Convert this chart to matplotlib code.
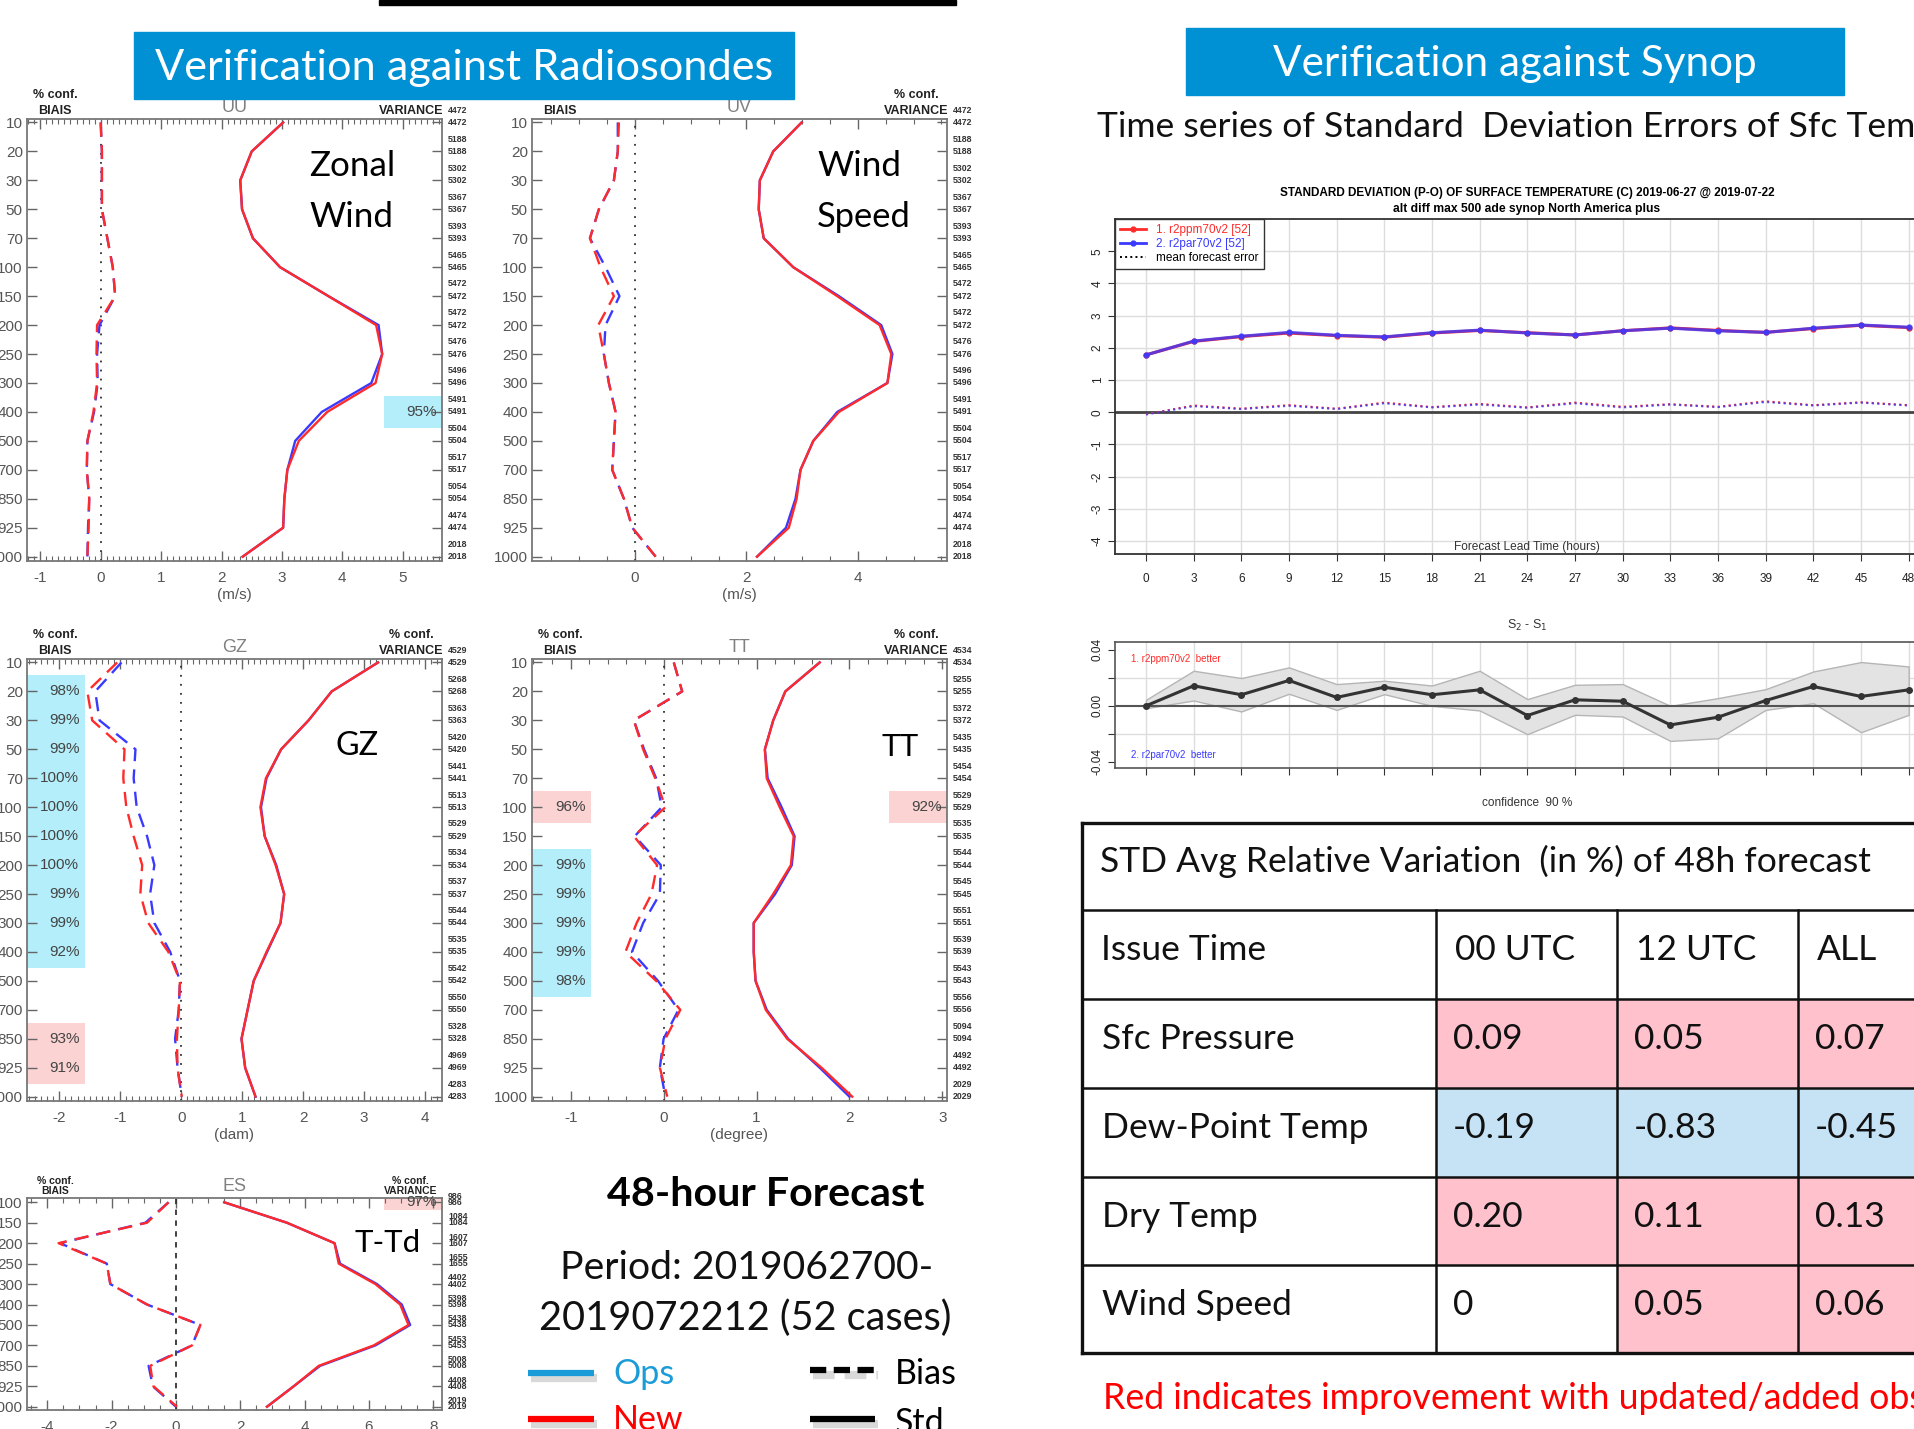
import numpy as np
import matplotlib
matplotlib.use('Agg')
import matplotlib.pyplot as plt
from matplotlib.patches import Rectangle
from matplotlib.lines import Line2D
from matplotlib.ticker import MultipleLocator

W, H = 1915, 1429

# ---------------- data ----------------
levels = ['10', '20', '30', '50', '70', '100', '150', '200', '250',
          '300', '400', '500', '700', '850', '925', '1000']
es_levels = ['100', '150', '200', '250', '300', '400', '500', '700',
             '850', '925', '1000']

# UU  zonal wind (m/s)
uu_std_new = [3.02, 2.50, 2.31, 2.34, 2.52, 2.97, 3.77, 4.56, 4.66, 4.55, 3.75, 3.28, 3.09, 3.04, 3.02, 2.35]
uu_std_ops = [3.02, 2.50, 2.31, 2.34, 2.52, 2.97, 3.77, 4.60, 4.66, 4.48, 3.66, 3.22, 3.09, 3.04, 3.02, 2.35]
uu_bias_new = [0.00, 0.02, 0.02, 0.02, 0.11, 0.20, 0.24, -0.06, -0.07, -0.06, -0.12, -0.22, -0.23, -0.19, -0.20, -0.22]
uu_bias_ops = [0.00, 0.02, 0.02, 0.02, 0.11, 0.20, 0.24, -0.02, -0.06, -0.05, -0.11, -0.22, -0.23, -0.19, -0.21, -0.22]
uu_counts = ['4472', '5188', '5302', '5367', '5393', '5465', '5472', '5472',
             '5476', '5496', '5491', '5504', '5517', '5054', '4474', '2018']
uu_var_conf = ['', '', '', '', '', '', '', '', '', '', '95%', '', '', '', '', '']
uu_var_side = ['', '', '', '', '', '', '', '', '', '', 'b', '', '', '', '', '']

# UV  wind speed (m/s)
uv_std_new = [2.99, 2.48, 2.24, 2.22, 2.31, 2.84, 3.63, 4.39, 4.60, 4.53, 3.66, 3.20, 2.97, 2.90, 2.76, 2.19]
uv_std_ops = [2.99, 2.48, 2.24, 2.22, 2.31, 2.84, 3.66, 4.42, 4.62, 4.53, 3.63, 3.20, 2.97, 2.88, 2.71, 2.19]
uv_bias_new = [-0.29, -0.31, -0.38, -0.65, -0.81, -0.62, -0.38, -0.66, -0.56, -0.47, -0.35, -0.38, -0.41, -0.20, -0.05, 0.37]
uv_bias_ops = [-0.31, -0.31, -0.38, -0.65, -0.81, -0.53, -0.28, -0.53, -0.56, -0.47, -0.35, -0.38, -0.41, -0.20, -0.05, 0.37]
uv_counts = uu_counts

# GZ  geopotential (dam)
gz_std_new = [3.23, 2.47, 2.09, 1.64, 1.39, 1.30, 1.37, 1.55, 1.69, 1.63, 1.40, 1.19, 1.09, 0.99, 1.05, 1.22]
gz_std_ops = [3.23, 2.47, 2.09, 1.64, 1.40, 1.31, 1.37, 1.56, 1.69, 1.63, 1.41, 1.19, 1.09, 0.99, 1.05, 1.22]
gz_bias_new = [-1.05, -1.54, -1.46, -0.93, -0.95, -0.90, -0.78, -0.64, -0.67, -0.54, -0.21, -0.02, -0.04, -0.07, -0.06, 0.01]
gz_bias_ops = [-0.98, -1.41, -1.34, -0.75, -0.78, -0.73, -0.56, -0.44, -0.51, -0.44, -0.18, -0.02, -0.04, -0.10, -0.06, 0.01]
gz_counts = ['4529', '5268', '5363', '5420', '5441', '5513', '5529', '5534',
             '5537', '5544', '5535', '5542', '5550', '5328', '4969', '4283']
gz_bias_conf = ['', '98%', '99%', '99%', '100%', '100%', '100%', '100%', '99%', '99%', '92%', '', '', '93%', '91%', '']
gz_bias_side = ['', 'b', 'b', 'b', 'b', 'b', 'b', 'b', 'b', 'b', 'b', '', '', 'r', 'r', '']

# TT  temperature (degree)
tt_std_new = [1.68, 1.31, 1.18, 1.09, 1.11, 1.25, 1.40, 1.37, 1.18, 0.97, 0.97, 0.99, 1.10, 1.33, 1.70, 2.03]
tt_std_ops = [1.68, 1.31, 1.18, 1.09, 1.12, 1.27, 1.41, 1.38, 1.20, 0.97, 0.97, 0.99, 1.11, 1.34, 1.68, 2.00]
tt_bias_new = [0.11, 0.20, -0.32, -0.22, -0.09, 0.02, -0.32, -0.07, -0.13, -0.29, -0.41, -0.08, 0.18, 0.02, -0.04, 0.04]
tt_bias_ops = [0.11, 0.20, -0.32, -0.21, -0.08, -0.02, -0.31, -0.03, -0.04, -0.22, -0.34, -0.06, 0.16, 0.00, -0.04, 0.02]
tt_counts = ['4534', '5255', '5372', '5435', '5454', '5529', '5535', '5544',
             '5545', '5551', '5539', '5543', '5556', '5094', '4492', '2029']
tt_bias_conf = ['', '', '', '', '', '96%', '', '99%', '99%', '99%', '99%', '98%', '', '', '', '']
tt_bias_side = ['', '', '', '', '', 'r', '', 'b', 'b', 'b', 'b', 'b', '', '', '', '']
tt_var_conf = ['', '', '', '', '', '92%', '', '', '', '', '', '', '', '', '', '']
tt_var_side = ['', '', '', '', '', 'r', '', '', '', '', '', '', '', '', '', '']

# ES  dew-point depression
es_std_new = [1.50, 3.45, 4.93, 5.06, 6.20, 6.97, 7.23, 6.15, 4.44, 3.66, 2.83]
es_std_ops = [1.50, 3.45, 4.93, 5.10, 6.25, 7.02, 7.28, 6.20, 4.48, 3.66, 2.83]
es_bias_new = [-0.23, -0.90, -3.65, -2.15, -2.04, -0.90, 0.76, 0.50, -0.80, -0.70, 0.03]
es_bias_ops = [-0.23, -0.95, -3.60, -2.15, -2.04, -0.90, 0.76, 0.50, -0.85, -0.72, 0.00]
es_counts = ['986', '1084', '1607', '1655', '4402', '5398', '5438', '5453', '5008', '4408', '2019']
es_var_conf = ['97%', '', '', '', '', '', '', '', '', '', '']
es_var_side = ['r', '', '', '', '', '', '', '', '', '', '']

# synop time series
hours = [0, 3, 6, 9, 12, 15, 18, 21, 24, 27, 30, 33, 36, 39, 42, 45, 48]
ts_std_1 = [1.78, 2.20, 2.35, 2.46, 2.38, 2.33, 2.46, 2.54, 2.47, 2.40, 2.53, 2.62, 2.54, 2.48, 2.60, 2.70, 2.63]
ts_std_2 = [1.78, 2.21, 2.36, 2.48, 2.39, 2.34, 2.47, 2.55, 2.46, 2.40, 2.53, 2.61, 2.53, 2.48, 2.61, 2.71, 2.64]
ts_bias_1 = [-0.06, 0.21, 0.11, 0.22, 0.11, 0.30, 0.16, 0.26, 0.15, 0.30, 0.17, 0.25, 0.17, 0.34, 0.22, 0.31, 0.22]
ts_bias_2 = [-0.07, 0.19, 0.10, 0.20, 0.10, 0.28, 0.15, 0.24, 0.14, 0.28, 0.15, 0.24, 0.16, 0.32, 0.21, 0.30, 0.21]
ts_labels = ['1. r2ppm70v2 [52]', '2. r2par70v2 [52]', 'mean forecast error']

diff_mean = [0.0, 0.0143, 0.0079, 0.0181, 0.0060, 0.0133, 0.0079, 0.0114, -0.0069,
             0.0043, 0.0033, -0.0136, -0.0081, 0.0038, 0.0138, 0.0067, 0.0114]
diff_high = [0.0043, 0.0250, 0.0198, 0.0274, 0.0155, 0.0179, 0.0145, 0.0250, 0.0048,
             0.0150, 0.0155, 0.0000, 0.0055, 0.0119, 0.0245, 0.0312, 0.0281]
diff_low = [-0.0017, 0.0038, -0.0040, 0.0086, -0.0029, 0.0083, 0.0000, -0.0033, -0.0202,
            -0.0064, -0.0076, -0.0250, -0.0231, -0.0029, 0.0019, -0.0188, -0.0064]

# table
table_title = 'STD Avg Relative Variation  (in %) of 48h forecast'
table_cols = ['Issue Time', '00 UTC', '12 UTC', 'ALL']
table_rows = ['Sfc Pressure', 'Dew-Point Temp', 'Dry Temp', 'Wind Speed']
table_vals = [['0.09', '0.05', '0.07'],
              ['-0.19', '-0.83', '-0.45'],
              ['0.20', '0.11', '0.13'],
              ['0', '0.05', '0.06']]

legend_names = ['Ops', 'New']
legend_colors = ['#1b9bd7', '#ff0000']
style_names = ['Bias', 'Std']
style_ls = [(0, (2.6, 1.2)), '-']

# ---------------- styles ----------------
RED = '#ff2a2a'
BLUE = '#3a3aff'
PINK = '#fbd3d3'
CYAN = '#b3eefa'
HEAD = '#0091d5'
GOTHIC = {'family': 'Lato', 'weight': 'normal'}
CAL = {'family': 'Lato'}
NARROW = ['Liberation Sans Narrow', 'Liberation Sans']

plt.rcParams['font.family'] = ['Liberation Sans', 'DejaVu Sans']

fig = plt.figure(figsize=(W / 100, H / 100), dpi=100)
fig.patch.set_facecolor('white')
renderer = fig.canvas.get_renderer()


def axes_px(x0, y0, x1, y1):
    return fig.add_axes([x0 / W, 1 - y1 / H, (x1 - x0) / W, (y1 - y0) / H])


def fit_size(s, width, **kw):
    t = fig.text(0, 0, s, fontsize=20, **kw)
    w = t.get_window_extent(renderer).width
    t.remove()
    return 20 * width / w


def profile(box, labels, std_new, std_ops, bias_new, bias_ops, counts, xlim, ylim,
            major, minor, name, unit, tags, bias_conf=None, var_conf=None,
            gap=0.42, half=0.55, zero_ls=(0, (1, 4)), small=9, conf_dy=13):
    ax = axes_px(*box)
    y = np.arange(len(labels))
    ax.axvline(0, color='#333333', lw=1.3, ls=zero_ls, zorder=2)
    ax.plot(std_ops, y, color=BLUE, lw=1.7, zorder=4)
    ax.plot(std_new, y, color=RED, lw=1.7, zorder=4)
    ax.plot(bias_ops, y, color=BLUE, lw=1.7, ls=(0, (6, 3.5)), zorder=4)
    ax.plot(bias_new, y, color=RED, lw=1.7, ls=(0, (6, 3.5)), zorder=4)
    ax.set_xlim(xlim)
    ax.set_ylim(ylim)
    ax.set_yticks(y)
    ax.set_yticklabels(labels)
    ax.set_xticks(major)
    ax.set_xticklabels(['%g' % v for v in major])
    ax.xaxis.set_minor_locator(MultipleLocator(minor))
    ax.tick_params(which='both', direction='in', top=True, right=True, color='#666666')
    ax.tick_params(which='major', length=7, width=1, labelsize=11, labelcolor='#555555', pad=3)
    ax.tick_params(axis='x', which='major', pad=7)
    ax.tick_params(which='minor', length=3.5, width=0.8)
    for sp in ax.spines.values():
        sp.set_color('#777777')
        sp.set_linewidth(1.3)

    for conf, right in ((bias_conf, False), (var_conf, True)):
        if conf is None:
            continue
        pct, side, edge = conf
        x0, x1 = (edge, xlim[1]) if right else (xlim[0], edge)
        for i, (p, s) in enumerate(zip(pct, side)):
            if not p:
                continue
            ax.add_patch(Rectangle((x0, i - half), x1 - x0, 2 * half, lw=0, zorder=1,
                                   color=CYAN if s == 'b' else PINK))
            ax.annotate(p, (x1, i), xytext=(-4, 0), textcoords='offset points',
                        ha='right', va='center', fontsize=11, color='#444444',
                        family=NARROW, zorder=3)

    tr = ax.get_yaxis_transform()
    for i, c in enumerate(counts):
        for dy in (0, -gap):
            ax.text(1.015, i + dy, c, transform=tr, fontsize=6.3, fontweight='bold',
                    color='#333333', va='center', ha='left', family=NARROW, clip_on=False)

    def top(s, xf, dy, **kw):
        ax.annotate(s, (xf, 1), xycoords='axes fraction', xytext=(0, dy),
                    textcoords='offset points', ha='center', va='bottom', **kw)

    lab = dict(fontsize=small, fontweight='bold', color='#222222', family=NARROW)
    top(name, 0.5, 2, fontsize=13, color='#808080')
    top('BIAIS', 0.068, 1.5, **lab)
    top('VARIANCE', 0.925, 1.5, **lab)
    if tags[0]:
        top('% conf.', 0.068, conf_dy, **lab)
    if tags[1]:
        top('% conf.', 0.925, conf_dy, **lab)
    if unit:
        ax.annotate(unit, (0.5, 0), xycoords='axes fraction', xytext=(0, -24.5),
                    textcoords='offset points', ha='center', va='center',
                    fontsize=11, color='#555555')
    return ax


profile((27, 119, 442, 561), levels, uu_std_new, uu_std_ops, uu_bias_new, uu_bias_ops,
        uu_counts, (-1.22, 5.65), (15.15, -0.12), [-1, 0, 1, 2, 3, 4, 5], 0.1, 'UU', '(m/s)',
        (True, False), var_conf=(uu_var_conf, uu_var_side, 4.69))
profile((532, 119, 947, 561), levels, uv_std_new, uv_std_ops, uv_bias_new, uv_bias_ops,
        uv_counts, (-1.85, 5.6), (15.15, -0.12), [0, 2, 4], 0.5, 'UV', '(m/s)',
        (False, True))
profile((27, 659, 442, 1101), levels, gz_std_new, gz_std_ops, gz_bias_new, gz_bias_ops,
        gz_counts, (-2.53, 4.28), (15.15, -0.12), [-2, -1, 0, 1, 2, 3, 4], 0.1, 'GZ', '(dam)',
        (True, True), bias_conf=(gz_bias_conf, gz_bias_side, -1.58))
profile((532, 659, 947, 1101), levels, tt_std_new, tt_std_ops, tt_bias_new, tt_bias_ops,
        tt_counts, (-1.416, 3.05), (15.15, -0.12), [-1, 0, 1, 2, 3], 0.2, 'TT', '(degree)',
        (True, True), bias_conf=(tt_bias_conf, tt_bias_side, -0.78),
        var_conf=(tt_var_conf, tt_var_side, 2.43))
profile((27, 1198, 442, 1410), es_levels, es_std_new, es_std_ops, es_bias_new, es_bias_ops,
        es_counts, (-4.63, 8.27), (10.16, -0.21), [-4, -2, 0, 2, 4, 6, 8], 0.5, 'ES', None,
        (True, True), var_conf=(es_var_conf, es_var_side, 6.46), gap=0.3, half=0.4,
        zero_ls=(0, (3, 3)), small=7.5, conf_dy=9)

# ---------------- synop time series ----------------
XL = (-1.95, 50.6)
ax1 = axes_px(1115, 219, 1950, 554)
for h in hours:
    ax1.axvline(h, color='#dddddd', lw=1, zorder=0)
for v in range(-4, 6):
    ax1.axhline(v, color='#dddddd', lw=1, zorder=0)
ax1.axhline(0, color='#444444', lw=2, zorder=1)
ax1.plot(hours, ts_bias_1, color=RED, lw=1.5, ls=':', zorder=2)
ax1.plot(hours, ts_bias_2, color=BLUE, lw=1.5, ls=':', zorder=2, alpha=0.8)
ax1.plot(hours, ts_std_1, color=RED, lw=2.2, marker='o', ms=3.5, zorder=3)
ax1.plot(hours, ts_std_2, color=BLUE, lw=2.2, marker='o', ms=3.5, zorder=3, alpha=0.8)
ax1.set_xlim(XL)
ax1.set_ylim(-4.4, 6.0)
ax1.set_xticks(hours)
ax1.set_xticklabels([str(h) for h in hours])
ax1.set_yticks(range(-4, 6))
ax1.set_yticklabels([str(v) for v in range(-4, 6)], rotation=90, va='center')
ax1.tick_params(direction='out', length=5, color='#333333', labelsize=8.5, labelcolor='#222222')
ax1.tick_params(axis='x', pad=9)
ax1.tick_params(axis='y', pad=3)
for t in ax1.get_xticklabels() + ax1.get_yticklabels():
    t.set_family(NARROW)
for sp in ax1.spines.values():
    sp.set_color('#333333')
    sp.set_linewidth(1.3)
handles = [Line2D([], [], color=RED, lw=2, marker='o', ms=3.5),
           Line2D([], [], color=BLUE, lw=2, marker='o', ms=3.5),
           Line2D([], [], color='k', lw=1.4, ls=':')]
leg = ax1.legend(handles, ts_labels, loc='upper left', bbox_to_anchor=(0, 1), borderaxespad=0,
                 fancybox=False, edgecolor='#333333', framealpha=1, handlelength=2.2,
                 labelspacing=0.15, borderpad=0.45, prop={'family': NARROW, 'size': 8.5})
leg.get_frame().set_linewidth(1.0)
for txt, c in zip(leg.get_texts(), [RED, BLUE, 'k']):
    txt.set_color(c)

ax2 = axes_px(1115, 642, 1950, 768)
for h in hours:
    ax2.axvline(h, color='#dddddd', lw=1, zorder=0)
for v in (-0.02, 0.02):
    ax2.axhline(v, color='#dddddd', lw=1, zorder=0)
ax2.fill_between(hours, diff_low, diff_high, facecolor='#e3e3e3', edgecolor='#b5b5b5', lw=1, zorder=1)
ax2.axhline(0, color='#555555', lw=1.5, zorder=2)
ax2.plot(hours, diff_mean, color='#333333', lw=2.2, marker='o', ms=4, zorder=3)
ax2.set_xlim(XL)
ax2.set_ylim(-0.0443, 0.0455)
ax2.set_xticks(hours)
ax2.set_xticklabels([])
ax2.set_yticks([-0.04, -0.02, 0, 0.02, 0.04])
ax2.set_yticklabels(['-0.04', '', '0.00', '', '0.04'], rotation=90, va='center')
ax2.tick_params(direction='out', length=5, color='#333333', labelsize=8.5, labelcolor='#222222', pad=3)
for t in ax2.get_yticklabels():
    t.set_family(NARROW)
for sp in ax2.spines.values():
    sp.set_color('#555555')
    sp.set_linewidth(1.2)

# ---------------- overlay in pixel coordinates ----------------
ov = fig.add_axes([0, 0, 1, 1])
ov.set_xlim(0, W)
ov.set_ylim(H, 0)
ov.axis('off')
ov.patch.set_visible(False)

ov.add_patch(Rectangle((379, 0), 577, 5, color='k'))

for x0, y0, w, h, s, tw in ((134, 32, 660, 67, 'Verification against Radiosondes', 619),
                            (1186, 28, 658, 67, 'Verification against Synop', 485)):
    ov.add_patch(Rectangle((x0, y0), w, h, color=HEAD))
    ov.text(x0 + w / 2, y0 + 48, s, color='white', ha='center', va='baseline',
            fontsize=fit_size(s, tw, **GOTHIC), **GOTHIC)

s = 'Time series of Standard  Deviation Errors of Sfc Temp'
ov.text(1097, 137, s, fontsize=fit_size(s, 838, **GOTHIC), va='baseline', color='#111111', **GOTHIC)

# big variable names
for s, x, y, tw in (('Zonal', 309, 176, 86), ('Wind', 309, 227, 84), ('Wind', 817, 176, 84),
                    ('Speed', 817, 227, 94), ('GZ', 336, 755, 43), ('TT', 882, 756, 37),
                    ('T-Td', 355, 1252, 66)):
    ov.text(x, y, s, fontsize=fit_size(s, tw, **CAL), va='baseline', **CAL)

# forecast description
s = '48-hour Forecast'
ov.text(766, 1206, s, ha='center', va='baseline', fontweight='bold', family='Lato',
        fontsize=fit_size(s, 318, family='Lato', fontweight='bold'))
s = 'Period: 2019062700-'
ov.text(747, 1279, s, ha='center', va='baseline', color='#111111',
        fontsize=fit_size(s, 373, **GOTHIC), **GOTHIC)
s = '2019072212 (52 cases)'
ov.text(745, 1330, s, ha='center', va='baseline', color='#111111',
        fontsize=fit_size(s, 412, **GOTHIC), **GOTHIC)

fs_leg = fit_size('Ops', 61, **CAL)
for i, (name, col) in enumerate(zip(legend_names, legend_colors)):
    yy = 1373 + 46 * i
    ov.plot([531, 597], [yy + 5, yy + 5], color='k', alpha=0.15, lw=6, solid_capstyle='butt')
    ov.plot([528, 594], [yy, yy], color=col, lw=4.5, solid_capstyle='butt')
    ov.text(613, yy + 11, name, color=col, fontsize=fs_leg, va='baseline', **CAL)
for i, (name, ls) in enumerate(zip(style_names, style_ls)):
    yy = 1370 + 49 * i
    ov.plot([813, 878], [yy + 5, yy + 5], color='k', alpha=0.15, lw=6, ls=ls,
            solid_capstyle='butt', dash_capstyle='butt')
    ov.plot([810, 875], [yy, yy], color='k', lw=4.5, ls=ls,
            solid_capstyle='butt', dash_capstyle='butt')
    ov.text(895, yy + 14, name, color='k', fontsize=fs_leg, va='baseline', **CAL)

# synop plot texts
s = 'STANDARD DEVIATION (P-O) OF SURFACE TEMPERATURE (C) 2019-06-27 @ 2019-07-22'
ov.text(1527, 196, s, ha='center', va='baseline', fontweight='bold', family=NARROW,
        fontsize=fit_size(s, 498, family=NARROW, fontweight='bold'))
s = 'alt diff max 500 ade synop North America plus'
ov.text(1527, 212, s, ha='center', va='baseline', fontweight='bold', family=NARROW,
        fontsize=fit_size(s, 265, family=NARROW, fontweight='bold'))
s = 'Forecast Lead Time (hours)'
ov.text(1527, 550, s, ha='center', va='baseline', color='#333333', family=NARROW,
        fontsize=fit_size(s, 146, family=NARROW))
ov.text(1527, 629, r'S$_2$ - S$_1$', ha='center', va='baseline', fontsize=9, color='#333333')
ov.text(1131, 662, '1. r2ppm70v2  better', color=RED, fontsize=7, va='baseline', family=NARROW)
ov.text(1131, 758, '2. r2par70v2  better', color=BLUE, fontsize=7, va='baseline', family=NARROW)
ov.text(1527, 806, 'confidence  90 %', ha='center', va='baseline', fontsize=8.5,
        color='#333333', family=NARROW)

# ---------------- table ----------------
row_y = [823, 910, 999, 1088, 1177, 1265, 1353]
col_x = [1082, 1436, 1617, 1798, 1995]
TPINK = '#ffc2cd'
TBLUE = '#c6e2f5'
TXT = dict(va='baseline', color='#111111', **GOTHIC)
fs_tab = fit_size(table_title, 771, **GOTHIC)
ov.text(1100, row_y[0] + 49, table_title, fontsize=fs_tab, **TXT)
for c, s in enumerate(table_cols):
    ov.text(col_x[c] + 19, row_y[1] + 50, s, fontsize=fs_tab, **TXT)
for r, name in enumerate(table_rows):
    y0 = row_y[r + 2]
    ov.text(col_x[0] + 20, y0 + 50, name, fontsize=fs_tab, **TXT)
    for c, v in enumerate(table_vals[r]):
        val = float(v)
        col = TPINK if val > 0 else (TBLUE if val < 0 else 'white')
        ov.add_patch(Rectangle((col_x[c + 1], y0), col_x[c + 2] - col_x[c + 1],
                               row_y[r + 3] - y0, color=col, lw=0, zorder=0))
        ov.text(col_x[c + 1] + 17, y0 + 50, v, fontsize=fs_tab, **TXT)
for i, yy in enumerate(row_y):
    ov.plot([col_x[0], col_x[-1]], [yy, yy], color='#111111',
            lw=2.4 if i in (0, len(row_y) - 1) else 1.8, zorder=5)
ov.plot([col_x[0], col_x[0]], [row_y[0], row_y[-1]], color='#111111', lw=2.4, zorder=5)
for xx in col_x[1:4]:
    ov.plot([xx, xx], [row_y[1], row_y[-1]], color='#111111', lw=1.8, zorder=5)

s = 'Red indicates improvement with updated/added ob'
ov.text(1103, 1409, s + 's', color='#ff0000', va='baseline',
        fontsize=fit_size(s, 812, **CAL), **CAL)

fig.savefig('out.png', dpi=100)
